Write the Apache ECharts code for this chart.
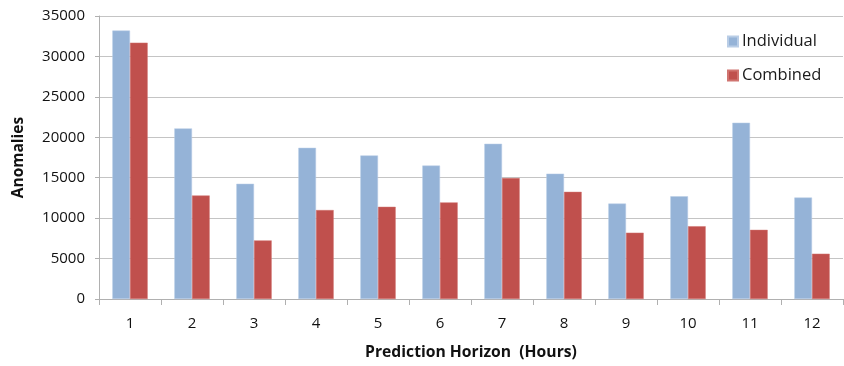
<!DOCTYPE html>
<html>
<head>
<meta charset="utf-8">
<script src="https://cdn.jsdelivr.net/npm/echarts@6/dist/echarts.min.js"></script>
<style>
  html, body { margin: 0; padding: 0; background: #fff; }
  #chart { width: 844px; height: 366px; }
</style>
</head>
<body>
<div id="chart"></div>
<script>
// Anomaly counts per prediction horizon (hours)
const horizons = ['1', '2', '3', '4', '5', '6', '7', '8', '9', '10', '11', '12'];
const individual = [33200, 21100, 14250, 18700, 17750, 16500, 19200, 15500, 11800, 12700, 21800, 12550];
const combined = [31700, 12800, 7250, 11000, 11400, 11950, 14950, 13250, 8200, 9000, 8550, 5600];

const fontFamily = '"Open Sans", Lato, sans-serif';
const chart = echarts.init(document.getElementById('chart'), null, { renderer: 'canvas' });

chart.setOption({
  animation: false,
  backgroundColor: '#ffffff',
  textStyle: { fontFamily: fontFamily },
  grid: { left: 99, right: 1, top: 16, bottom: 67, containLabel: false, outerBoundsMode: 'none' },
  legend: {
    orient: 'vertical',
    left: 727,
    top: 33,
    padding: 0,
    itemWidth: 10,
    itemHeight: 10,
    itemGap: 17,
    icon: 'rect',
    textStyle: { fontSize: 16.5, color: '#1a1a1a', fontFamily: fontFamily, padding: [0, 0, 0, -1] },
    data: ['Individual', 'Combined']
  },
  xAxis: {
    type: 'category',
    data: horizons,
    name: 'Prediction Horizon  (Hours)',
    nameLocation: 'middle',
    nameGap: 46,
    nameTextStyle: { fontSize: 15.7, fontWeight: 'bold', color: '#111', fontFamily: fontFamily },
    axisLine: { lineStyle: { color: '#b0b0b0', width: 1 } },
    axisTick: { show: true, length: 6, lineStyle: { color: '#b0b0b0' } },
    axisLabel: { fontSize: 15, color: '#111', margin: 17, fontFamily: fontFamily }
  },
  yAxis: {
    type: 'value',
    min: 0,
    max: 35000,
    interval: 5000,
    name: 'Anomalies',
    nameLocation: 'middle',
    nameGap: 72,
    nameTextStyle: { fontSize: 15.5, fontWeight: 'bold', color: '#111', fontFamily: fontFamily },
    axisLine: { show: true, lineStyle: { color: '#b0b0b0', width: 1 } },
    axisTick: { show: true, length: 4, lineStyle: { color: '#b0b0b0' } },
    axisLabel: {
      fontSize: 15, color: '#111', margin: 14, fontFamily: fontFamily,
      formatter: function (v) { return String(v); }
    },
    splitLine: { show: true, lineStyle: { color: '#c4c4c4', width: 1 } }
  },
  series: [
    {
      name: 'Individual',
      type: 'bar',
      data: individual,
      barGap: '0%',
      barCategoryGap: '43%',
      itemStyle: { color: '#95b3d7', borderColor: '#b9cde6', borderWidth: 0.5 }
    },
    {
      name: 'Combined',
      type: 'bar',
      data: combined,
      barGap: '0%',
      barCategoryGap: '43%',
      itemStyle: { color: '#c0504d', borderColor: '#d07470', borderWidth: 0.5 }
    }
  ]
});
</script>
</body>
</html>
